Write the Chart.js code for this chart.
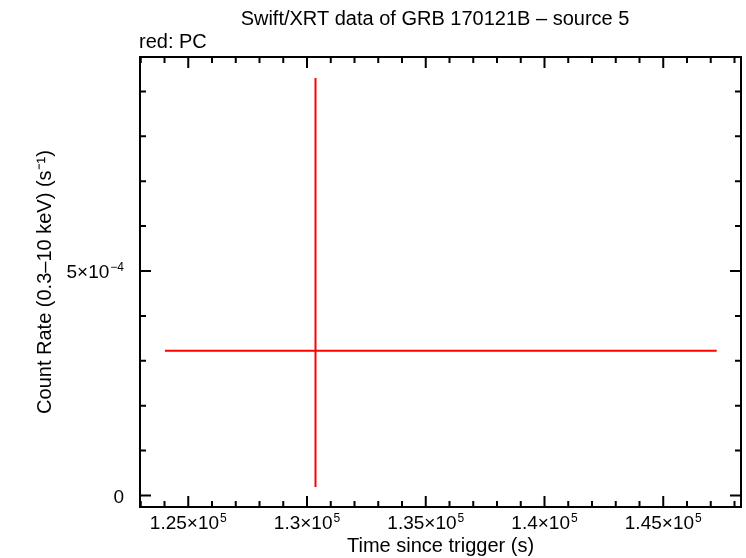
<!DOCTYPE html>
<html>
<head>
<meta charset="utf-8">
<script src="https://cdn.jsdelivr.net/npm/chart.js@4.4.1/dist/chart.umd.min.js"></script>
<style>
  html, body { margin: 0; padding: 0; background: #fff; }
</style>
</head>
<body>
<canvas id="lc" width="746" height="558"></canvas>
<script>
// one PC-mode bin: time (s) with its bin edges, rate with its error range
const times = [130358];
const timeLow = [124021];
const timeHigh = [147251];
const rates = [3.225e-4];
const rateLow = [1.9e-5];
const rateHigh = [9.30e-4];

// major tick labels, split into mantissa part and power of ten
const xMajor = [125000, 130000, 135000, 140000, 145000];
const xLabelBase = ['1.25×10', '1.3×10', '1.35×10', '1.4×10', '1.45×10'];
const xLabelExp = ['5', '5', '5', '5', '5'];
const yMajor = [0, 5e-4];
const yLabelBase = ['0', '5×10'];
const yLabelExp = ['', '−4'];

const xMinor = [];
for (let v = 123000; v <= 148000; v += 1000) xMinor.push(v);
const yMinor = [];
for (let i = 0; i <= 9; i++) yMinor.push(i * 1e-4);

const FONT = '"Liberation Sans", Arial, Helvetica, sans-serif';

// draws "base" with a raised small exponent; returns nothing
function sci(ctx, base, exp, x, y, align) {
  ctx.font = '19px ' + FONT;
  const wb = ctx.measureText(base).width;
  ctx.font = '12px ' + FONT;
  const we = exp ? ctx.measureText(exp).width + 1 : 0;
  const w = wb + we;
  let x0 = align === 'right' ? x - w : x - w / 2;
  ctx.textAlign = 'left';
  ctx.textBaseline = 'alphabetic';
  ctx.font = '19px ' + FONT;
  ctx.fillText(base, x0, y);
  if (exp) {
    ctx.font = '12px ' + FONT;
    ctx.fillText(exp, x0 + wb + 1, y - 7);
  }
}

const frame = {
  id: 'frame',
  afterDatasetsDraw(chart) {
    const { ctx, chartArea: a, scales: { x, y } } = chart;
    ctx.save();
    // error bars
    ctx.strokeStyle = '#f00';
    ctx.lineWidth = 2;
    times.forEach((t, i) => {
      const px = x.getPixelForValue(t), py = y.getPixelForValue(rates[i]);
      ctx.beginPath();
      ctx.moveTo(x.getPixelForValue(timeLow[i]), py);
      ctx.lineTo(x.getPixelForValue(timeHigh[i]), py);
      ctx.moveTo(px, y.getPixelForValue(rateLow[i]));
      ctx.lineTo(px, y.getPixelForValue(rateHigh[i]));
      ctx.stroke();
    });
    // box + inward ticks
    ctx.strokeStyle = '#000';
    ctx.lineWidth = 2;
    ctx.strokeRect(a.left, a.top, a.right - a.left, a.bottom - a.top);
    ctx.beginPath();
    xMinor.forEach(v => {
      const p = x.getPixelForValue(v);
      const len = v % 5000 === 0 ? 11 : 6;
      ctx.moveTo(p, a.bottom); ctx.lineTo(p, a.bottom - len);
      ctx.moveTo(p, a.top); ctx.lineTo(p, a.top + len);
    });
    yMinor.forEach((v, i) => {
      const p = y.getPixelForValue(v);
      const len = i % 5 === 0 ? 11 : 6;
      ctx.moveTo(a.left, p); ctx.lineTo(a.left + len, p);
      ctx.moveTo(a.right, p); ctx.lineTo(a.right - len, p);
    });
    ctx.stroke();
    // tick labels
    ctx.fillStyle = '#000';
    xMajor.forEach((v, i) => sci(ctx, xLabelBase[i], xLabelExp[i], x.getPixelForValue(v), a.bottom + 22));
    yMajor.forEach((v, i) => sci(ctx, yLabelBase[i], yLabelExp[i], a.left - 16, y.getPixelForValue(v) + 7, 'right'));
    // titles
    ctx.font = '20px ' + FONT;
    ctx.textBaseline = 'middle';
    ctx.textAlign = 'center';
    ctx.fillText('Swift/XRT data of GRB 170121B – source 5', 435, 19);
    ctx.textAlign = 'left';
    ctx.fillText('red: PC', 139, 42);
    ctx.restore();
  }
};

new Chart(document.getElementById('lc'), {
  type: 'scatter',
  data: {
    datasets: [{
      label: 'PC',
      data: times.map((t, i) => ({ x: t, y: rates[i] })),
      pointRadius: 0,
      borderColor: '#f00',
      backgroundColor: '#f00'
    }]
  },
  options: {
    responsive: false,
    animation: false,
    devicePixelRatio: 1,
    layout: { padding: { top: 57, right: 5, left: 0, bottom: 0 } },
    plugins: { legend: { display: false }, tooltip: { enabled: false } },
    scales: {
      x: {
        type: 'linear',
        min: 122968,
        max: 148274,
        afterFit: s => { s.height = 51; },
        grid: { display: false, drawTicks: false },
        border: { display: false },
        ticks: { display: false },
        title: {
          display: true,
          text: 'Time since trigger (s)',
          color: '#000',
          font: { family: FONT, size: 20 },
          padding: { top: 0, bottom: 0 }
        }
      },
      y: {
        type: 'linear',
        min: -0.256e-4,
        max: 9.766e-4,
        afterFit: s => { s.width = 140; },
        grid: { display: false, drawTicks: false },
        border: { display: false },
        ticks: { display: false },
        title: {
          display: true,
          text: 'Count Rate (0.3–10 keV) (s⁻¹)',
          color: '#000',
          font: { family: FONT, size: 20 },
          padding: { top: 33, bottom: 0 }
        }
      }
    }
  },
  plugins: [frame]
});
</script>
</body>
</html>
